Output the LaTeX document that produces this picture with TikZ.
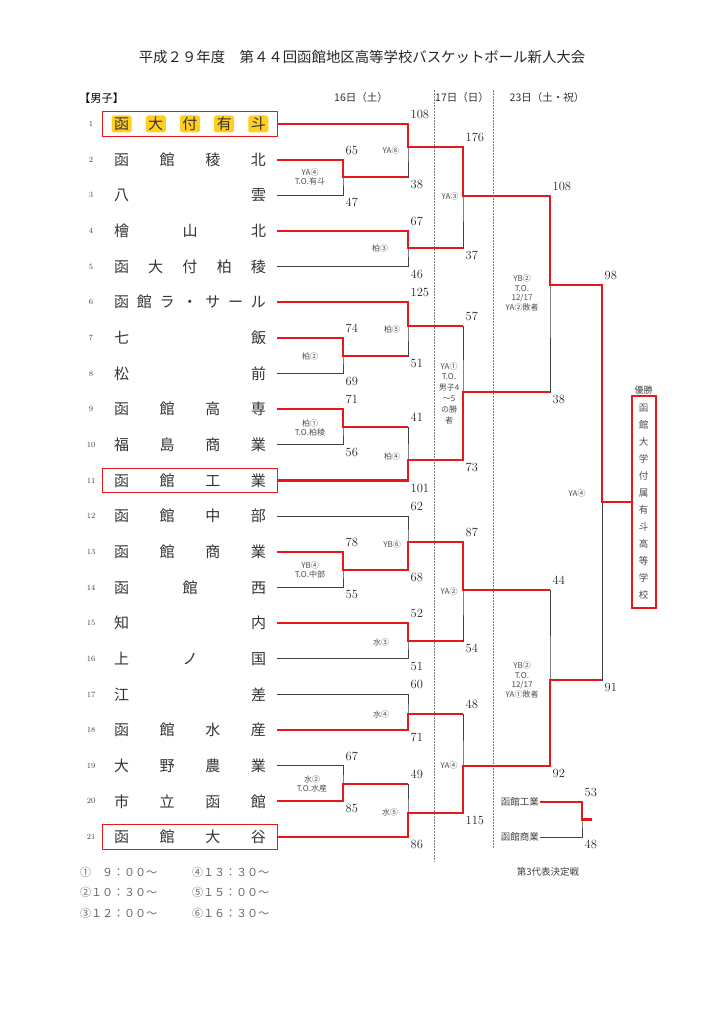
\documentclass[tikz,border=0pt]{standalone}
\usepackage{fontspec}
\newfontfamily\cjk{Noto Sans CJK JP}
\usetikzlibrary{calc}
\definecolor{wincol}{RGB}{230,24,30}
\definecolor{hicol}{RGB}{255,206,30}
\tikzset{
  team/.style={minimum width=174pt,minimum height=24pt,inner sep=0pt,
               font=\cjk\fontsize{15}{16}\selectfont,text=black!80},
  rowno/.style={inner sep=0pt,font=\fontsize{8}{9}\selectfont,text=black!75},
  score/.style={inner sep=0pt,font=\fontsize{12.5}{13}\selectfont,text=black!85}
}

\begin{document}
\begin{tikzpicture}[x=1pt,y=-1pt]
    % Local styling definitions
    \tikzstyle{lost}  =[draw=black!75,line width=0.8pt]
    \tikzstyle{won}   =[draw=wincol,line width=2.2pt]
    \tikzstyle{picked}=[draw=wincol,line width=1.3pt]
    \tikzstyle{sctop} =[score,anchor=south west,xshift=2.5pt,yshift=5pt]
    \tikzstyle{scbot} =[score,anchor=north west,xshift=2.5pt,yshift=-3pt]
    \tikzstyle{mlab}  =[font=\cjk\fontsize{8}{9.8}\selectfont,text=black!70,
                        align=center,inner sep=0pt]
    \tikzstyle{small} =[font=\cjk\fontsize{9.5}{11}\selectfont,text=black!75,inner sep=1pt]
    \tikzstyle{head}  =[font=\cjk\fontsize{10.5}{12}\selectfont,text=black!80,inner sep=0pt]
    \tikzstyle{times} =[font=\cjk\fontsize{11}{12}\selectfont,text=black!60,
                        anchor=west,inner sep=0pt]
    \tikzstyle{dayline}=[draw=black!50,line width=0.6pt,dash pattern=on 2pt off 1pt]

    \useasboundingbox (0,0) rectangle (724,1024);

    % Headings
    \node[font=\cjk\fontsize{14.4}{16}\selectfont,text=black!85] (title) at (362,57)
      {平成２９年度　第４４回函館地区高等学校バスケットボール新人大会};
    \node[font=\cjk\fontsize{11.2}{12}\selectfont,anchor=west,inner sep=0pt] (boys) at (79,98) {【男子】};
    \node[head] (d16) at (361,98) {16日（土）};
    \node[head] (d17) at (462,98) {17日（日）};
    \node[head] (d23) at (547,98) {23日（土・祝）};
    \draw[dayline] (434.5,90) -- (434.5,862);
    \draw[dayline] (493.3,90) -- (493.3,848);

    % Teams
    \foreach \cx in {121.7,155.9,190,224.1,258.3}
      \fill[hicol,rounded corners=2.5pt] (\cx-10,115.5) rectangle (\cx+10,132.5);
    \foreach \i/\nm in {1/函\hfill 大\hfill 付\hfill 有\hfill 斗,
                        2/函\hfill 館\hfill 稜\hfill 北,
                        3/八\hfill 雲,
                        4/檜\hfill 山\hfill 北,
                        5/函\hfill 大\hfill 付\hfill 柏\hfill 稜,
                        6/函\hfill 館\hfill ラ\hfill ・\hfill サ\hfill ー\hfill ル,
                        7/七\hfill 飯,
                        8/松\hfill 前,
                        9/函\hfill 館\hfill 高\hfill 専,
                        10/福\hfill 島\hfill 商\hfill 業,
                        11/函\hfill 館\hfill 工\hfill 業,
                        12/函\hfill 館\hfill 中\hfill 部,
                        13/函\hfill 館\hfill 商\hfill 業,
                        14/函\hfill 館\hfill 西,
                        15/知\hfill 内,
                        16/上\hfill ノ\hfill 国,
                        17/江\hfill 差,
                        18/函\hfill 館\hfill 水\hfill 産,
                        19/大\hfill 野\hfill 農\hfill 業,
                        20/市\hfill 立\hfill 函\hfill 館,
                        21/函\hfill 館\hfill 大\hfill 谷} {
      \pgfmathsetmacro{\ry}{124+(\i-1)*35.65}
      \node[rowno] (n\i) at (91,\ry) {\i};
      \node[team] (t\i) at (190,\ry) {\makebox[152pt][s]{\nm}};
    }
    \foreach \i in {1,11,21}
      \draw[picked] (t\i.north west) rectangle (t\i.south east);

    % Match points
    \coordinate (a23)   at (343,177);
    \coordinate (a78)   at (343,356);
    \coordinate (a910)  at (343,427);
    \coordinate (a1314) at (343,570);
    \coordinate (a1920) at (343,784);
    \coordinate (b1)    at (408,147);
    \coordinate (b45)   at (408,248);
    \coordinate (b6)    at (408,326);
    \coordinate (b11)   at (408,460);
    \coordinate (b12)   at (408,542);
    \coordinate (b1516) at (408,641);
    \coordinate (b1718) at (408,714);
    \coordinate (b21)   at (408,813);
    \coordinate (q1)    at (463,196);
    \coordinate (q2)    at (463,392);
    \coordinate (q3)    at (463,590);
    \coordinate (q4)    at (463,766);
    \coordinate (s1)    at (550,285);
    \coordinate (s2)    at (550,680);
    \coordinate (fin)   at (602,502);

    % Champion
    \node[small,font=\cjk\fontsize{9}{10}\selectfont] (yusho) at (643.5,390) {優勝};
    \node[draw=wincol,line width=1.6pt,minimum width=24pt,minimum height=212pt,inner sep=0pt,
          align=center,font=\cjk\fontsize{9.5}{17}\selectfont,text=black!70] (champ) at (643.7,502)
      {函\\館\\大\\学\\付\\属\\有\\斗\\高\\等\\学\\校};

    % Bracket lines and scores
    \foreach \p/\m/\q/\sa/\sb in {t2.east/a23/t3.east/65/47,
                                  t1.east/b1/a23/108/38,
                                  t4.east/b45/t5.east/67/46,
                                  b1/q1/b45/176/37,
                                  t7.east/a78/t8.east/74/69,
                                  t6.east/b6/a78/125/51,
                                  t9.east/a910/t10.east/71/56,
                                  a910/b11/t11.east/41/101,
                                  b6/q2/b11/57/73,
                                  q1/s1/q2/108/38,
                                  t13.east/a1314/t14.east/78/55,
                                  t12.east/b12/a1314/62/68,
                                  t15.east/b1516/t16.east/52/51,
                                  b12/q3/b1516/87/54,
                                  t17.east/b1718/t18.east/60/71,
                                  t19.east/a1920/t20.east/67/85,
                                  a1920/b21/t21.east/49/86,
                                  b1718/q4/b21/48/115,
                                  q3/s2/q4/44/92,
                                  s1/fin/s2/98/91} {
      \draw[lost] (\p) -| (\m) |- (\q);
      \node[sctop] (\m-top) at (\m |- \p) {\sa};
      \node[scbot] (\m-bot) at (\m |- \q) {\sb};
    }

    % Winners
    \draw[won] (t1.east) -| (b1) -| (q1) -| (s1) -| (fin) -- (champ.west);
    \draw[won] (t2.east) -| (a23) -- (b1 |- a23);
    \draw[won] (t4.east) -| (b45) -- (q1 |- b45);
    \draw[won] (t6.east) -| (b6) -- (q2 |- b6);
    \draw[won] (t7.east) -| (a78) -- (b6 |- a78);
    \draw[won] (t9.east) -| (a910) -- (b11 |- a910);
    \draw[won] (t11.east) -| (b11) -| (q2) -- (s1 |- q2);
    \draw[won] (t13.east) -| (a1314) -| (b12) -| (q3) -- (s2 |- q3);
    \draw[won] (t15.east) -| (b1516) -- (q3 |- b1516);
    \draw[won] (t18.east) -| (b1718) -- (q4 |- b1718);
    \draw[won] (t20.east) -| (a1920) -- (b21 |- a1920);
    \draw[won] (t21.east) -| (b21) -| (q4) -| (s2) -- (fin |- s2);

    % Game labels
    \node[mlab] (la23)   at (310,177) {YA④\\T.O.有斗};
    \node[mlab] (lb1)    at (391,150) {YA⑥};
    \node[mlab] (lb45)   at (380,248) {柏③};
    \node[mlab] (lq1)    at (450,196) {YA③};
    \node[mlab] (la78)   at (310,356) {柏②};
    \node[mlab] (lb6)    at (392,329) {柏⑤};
    \node[mlab] (la910)  at (310,428) {柏①\\T.O.柏稜};
    \node[mlab] (lb11)   at (392,456) {柏④};
    \node[mlab,font=\cjk\fontsize{8}{10.8}\selectfont] (lq2) at (449,393)
      {YA①\\T.O.\\男子4\\～5\\の勝\\者};
    \node[mlab] (ls1)    at (522,293) {YB②\\T.O.\\12/17\\YA②敗者};
    \node[mlab] (lb12)   at (392,544) {YB⑥};
    \node[mlab] (la1314) at (310,570) {YB④\\T.O.中部};
    \node[mlab] (lb1516) at (381,642) {水③};
    \node[mlab] (lq3)    at (449,591) {YA②};
    \node[mlab] (lb1718) at (381,714) {水④};
    \node[mlab] (la1920) at (312,784) {水②\\T.O.水産};
    \node[mlab] (lb21)   at (390,812) {水⑤};
    \node[mlab] (lq4)    at (449,765) {YA④};
    \node[mlab] (ls2)    at (522,680) {YB②\\T.O.\\12/17\\YA①敗者};
    \node[mlab] (lfin)   at (577,493) {YA④};

    % Third place
    \node[small,anchor=east] (k1) at (540,802) {函館工業};
    \node[small,anchor=east] (k2) at (540,837) {函館商業};
    \coordinate (k)    at (582,819.5);
    \coordinate (kend) at (592,819.5);
    \draw[lost] (k1.east) -| (k) |- (k2.east);
    \draw[won] (k1.east) -| (k) -- (kend);
    \node[sctop] (k-top) at (k |- k1.east) {53};
    \node[scbot] (k-bot) at (k |- k2.east) {48};
    \node[small] (third) at (548,872) {第3代表決定戦};

    % Start times
    \node[times] (tm1) at (80,872)  {①　９：００～};
    \node[times] (tm2) at (80,892)  {②１０：３０～};
    \node[times] (tm3) at (80,913)  {③１２：００～};
    \node[times] (tm4) at (192,872) {④１３：３０～};
    \node[times] (tm5) at (192,892) {⑤１５：００～};
    \node[times] (tm6) at (192,913) {⑥１６：３０～};
\end{tikzpicture}
\end{document}
